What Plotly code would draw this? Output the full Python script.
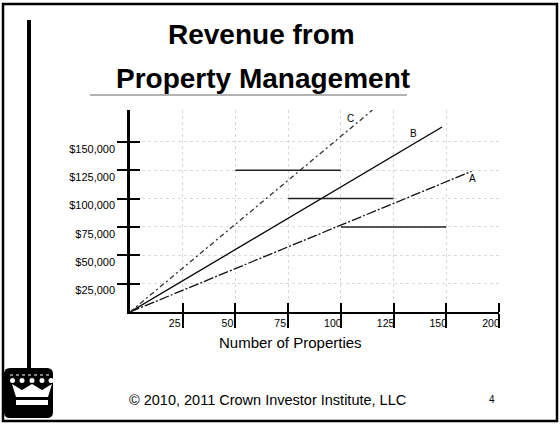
import plotly.graph_objects as go

# ---- data ----
line_names = ["A", "B", "C"]
line_x_end = [162, 148, 115]            # number of properties at line end
line_y_end = [124000, 163000, 178000]   # revenue at line end
line_dash = ["10px,2px,2px,2px", "solid", "5px,3px,2px,3px"]
line_color = ["#111111", "#000000", "#333333"]

step_x_start = [50, 75, 100]
step_x_end = [100, 125, 150]
step_y = [125000, 100000, 75000]

x_tick_vals = [25, 50, 75, 100, 125, 150, 175]
x_tick_text = ["25", "50", "75", "100", "125", "150", "200"]
y_tick_vals = [25000, 50000, 75000, 100000, 125000, 150000]
y_tick_text = ["$" + f"{v:,}" for v in y_tick_vals]

W, H = 560, 424
L, R, T, B = 130, 61, 110, 112
PW, PH = W - L - R, H - T - B


def px(x):
    return (x - L) / PW


def py(y):
    return (H - B - y) / PH


FONT = "Arial, 'Liberation Sans', sans-serif"

fig = go.Figure()

for name, xe, ye, dash, col in zip(line_names, line_x_end, line_y_end, line_dash, line_color):
    fig.add_trace(go.Scatter(x=[0, xe], y=[0, ye], mode="lines", name=name,
                             line=dict(color=col, width=1.3, dash=dash),
                             showlegend=False, hoverinfo="skip"))

for xs, xe, yv in zip(step_x_start, step_x_end, step_y):
    fig.add_trace(go.Scatter(x=[xs, xe], y=[yv, yv], mode="lines",
                             line=dict(color="#222222", width=1.5),
                             showlegend=False, hoverinfo="skip"))

label_shift = [(1, -7), (-29, -6), (-22, -8)]
for name, xe, ye, (dx, dy) in zip(line_names, line_x_end, line_y_end, label_shift):
    fig.add_annotation(x=xe, y=ye, text=name, showarrow=False, xshift=dx, yshift=dy,
                       font=dict(family=FONT, size=10, color="#000"))

# ---- decorations (slide frame, logo, title) ----
shapes = []
shapes.append(dict(type="rect", xref="paper", yref="paper", x0=px(3), x1=px(557), y0=py(4), y1=py(421),
                   line=dict(color="#000", width=2.5), layer="below"))
shapes.append(dict(type="rect", xref="paper", yref="paper", x0=px(27), x1=px(31), y0=py(20), y1=py(370),
                   line=dict(width=0), fillcolor="#000"))
shapes.append(dict(type="line", xref="paper", yref="paper", x0=px(90), x1=px(407), y0=py(95), y1=py(95),
                   line=dict(color="#666", width=1)))


def rounded_rect(x0, y0, x1, y1, r):
    pts = [
        f"M {px(x0 + r)},{py(y0)}", f"L {px(x1 - r)},{py(y0)}", f"Q {px(x1)},{py(y0)} {px(x1)},{py(y0 + r)}",
        f"L {px(x1)},{py(y1 - r)}", f"Q {px(x1)},{py(y1)} {px(x1 - r)},{py(y1)}",
        f"L {px(x0 + r)},{py(y1)}", f"Q {px(x0)},{py(y1)} {px(x0)},{py(y1 - r)}",
        f"L {px(x0)},{py(y0 + r)}", f"Q {px(x0)},{py(y0)} {px(x0 + r)},{py(y0)}", "Z"]
    return " ".join(pts)


shapes.append(dict(type="path", xref="paper", yref="paper", path=rounded_rect(4, 368, 53, 418, 6),
                   fillcolor="#000", line=dict(width=0)))
crown = [(12, 384), (22, 390), (32, 384), (42, 390), (52, 384), (48, 397), (16, 397)]
path = "M " + " L ".join(f"{px(a)},{py(b)}" for a, b in crown) + " Z"
shapes.append(dict(type="path", xref="paper", yref="paper", path=path, fillcolor="#fff", line=dict(width=0)))
shapes.append(dict(type="rect", xref="paper", yref="paper", x0=px(16), x1=px(48), y0=py(400), y1=py(405),
                   fillcolor="#fff", line=dict(width=0)))
for cx in [12.5, 22, 32, 42, 51]:
    shapes.append(dict(type="circle", xref="paper", yref="paper", x0=px(cx - 2.5), x1=px(cx + 2.5),
                       y0=py(378), y1=py(383), fillcolor="#fff", line=dict(width=0)))
shapes.append(dict(type="line", xref="paper", yref="paper", x0=px(10), x1=px(52), y0=py(375), y1=py(375),
                   line=dict(color="#fff", width=1, dash="dot")))

annotations = [
    dict(text="<b>Revenue from</b>", x=px(261), y=py(34), font=dict(size=28)),
    dict(text="<b>Property Management</b>", x=px(263), y=py(78), font=dict(size=28)),
    dict(text="Number of Properties", x=px(290), y=py(342), font=dict(size=15)),
    dict(text="© 2010, 2011 Crown Investor Institute, LLC", x=px(267), y=py(400), font=dict(size=14.5)),
    dict(text="4", x=px(492), y=py(399), font=dict(size=10)),
]
for a in annotations:
    a.update(xref="paper", yref="paper", showarrow=False, xanchor="center", yanchor="middle")
    a["font"].update(family=FONT, color="#000")
    fig.add_annotation(**a)

fig.update_layout(
    width=W, height=H, margin=dict(l=L, r=R, t=T, b=B),
    paper_bgcolor="#fff", plot_bgcolor="#fff",
    shapes=shapes, font=dict(family=FONT, color="#000"),
    showlegend=False,
)

fig.update_xaxes(range=[0, 175], showline=True, linecolor="#000", linewidth=2,
                 tickvals=x_tick_vals, ticktext=x_tick_text, ticks="outside", ticklen=14,
                 tickwidth=2, tickcolor="#000", tickfont=dict(size=10.5),
                 ticklabelshift=-8, ticklabelstandoff=-14,
                 showgrid=True, gridcolor="#d9d9d9", griddash="dot", gridwidth=1, zeroline=False,
                 minor=dict(tickvals=x_tick_vals, ticks="inside", ticklen=9, tickwidth=2, tickcolor="#000",
                            showgrid=False))
fig.update_yaxes(range=[0, 178000], showline=True, linecolor="#000", linewidth=2.5,
                 tickvals=y_tick_vals, ticktext=y_tick_text, ticks="outside", ticklen=10,
                 tickwidth=2, tickcolor="#000", tickfont=dict(size=11),
                 ticklabelshift=7,
                 showgrid=True, gridcolor="#d9d9d9", griddash="dot", gridwidth=1, zeroline=False,
                 minor=dict(tickvals=y_tick_vals, ticks="inside", ticklen=10, tickwidth=2, tickcolor="#000",
                            showgrid=False))

fig.write_html("out.html", config={"displayModeBar": False},
               post_script="document.body.style.margin='0';document.body.style.padding='0';")
